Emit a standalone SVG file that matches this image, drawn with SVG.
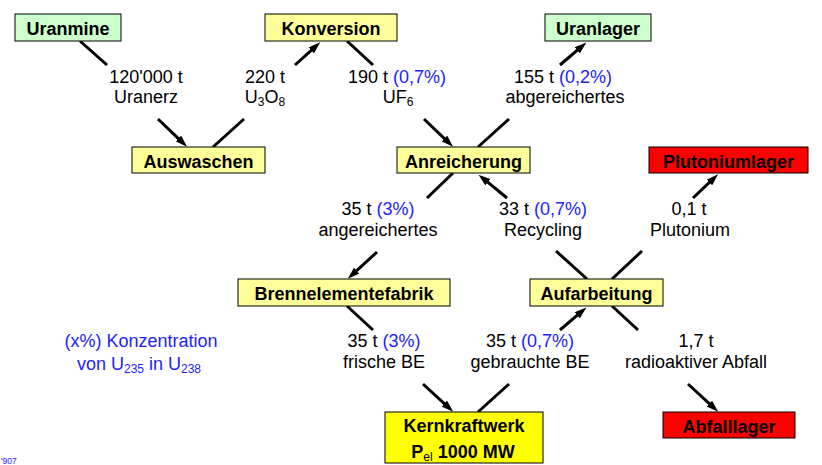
<svg xmlns="http://www.w3.org/2000/svg" width="822" height="465" viewBox="0 0 822 465">
<defs>
<marker id="ah" viewBox="0 0 12 8" refX="4" refY="4" markerWidth="12" markerHeight="8" markerUnits="userSpaceOnUse" orient="auto">
<path d="M0,0 L12,4 L0,8 z" fill="#000"/>
</marker>
<style>
text{font-family:"Liberation Sans",Arial,sans-serif;font-size:18px;text-anchor:middle;fill:#000}
.b{font-weight:bold}
.bl{fill:#2222ff}
.sub{font-size:12px}
rect{stroke:#000;stroke-width:1}
.g{fill:#ccffcc}
.y{fill:#ffff99}
.yy{fill:#ffff00}
.r{fill:#ff0000}
#connectors line{stroke:#000;stroke-width:3}
.a{marker-end:url(#ah)}
</style>
</defs>
<rect x="0" y="0" width="822" height="465" fill="#fff" style="stroke:none"/>

<g id="connectors">
<line x1="80" y1="41" x2="107" y2="65"/>
<line x1="213" y1="147" x2="244" y2="119"/>
<line x1="347" y1="41" x2="373" y2="65"/>
<line x1="478" y1="147" x2="509" y2="119"/>
<line x1="453" y1="173" x2="427" y2="198"/>
<line x1="556" y1="251" x2="587" y2="279"/>
<line x1="612" y1="279" x2="642" y2="251"/>
<line x1="347" y1="306" x2="373" y2="330"/>
<line x1="478" y1="412" x2="509" y2="384"/>
<line x1="612" y1="306" x2="638" y2="330"/>
<line class="a" x1="158" y1="119" x2="181.3" y2="141.3"/>
<line class="a" x1="295" y1="65" x2="314.3" y2="47.7"/>
<line class="a" x1="424" y1="119" x2="447.3" y2="141.3"/>
<line class="a" x1="560" y1="65" x2="580.3" y2="47.7"/>
<line class="a" x1="377" y1="252" x2="353.7" y2="273.3"/>
<line class="a" x1="507" y1="198" x2="484.7" y2="179.7"/>
<line class="a" x1="693" y1="198" x2="712.3" y2="179.7"/>
<line class="a" x1="423" y1="384" x2="447.3" y2="406.3"/>
<line class="a" x1="560" y1="330" x2="580.3" y2="312.7"/>
<line class="a" x1="688" y1="384" x2="712.3" y2="406.3"/>
</g>

<g id="uranmine"><rect class="g" x="15" y="14" width="106" height="27"/><text class="b" x="68" y="35">Uranmine</text></g>
<g id="konversion"><rect class="y" x="265" y="14" width="132" height="27"/><text class="b" x="331" y="35">Konversion</text></g>
<g id="uranlager"><rect class="g" x="545" y="14" width="106" height="27"/><text class="b" x="598" y="35">Uranlager</text></g>
<g id="auswaschen"><rect class="y" x="132" y="147" width="133" height="26"/><text class="b" x="198.5" y="168">Auswaschen</text></g>
<g id="anreicherung"><rect class="y" x="397" y="147" width="133" height="26"/><text class="b" x="463.5" y="168">Anreicherung</text></g>
<g id="plutoniumlager"><rect class="r" x="649" y="147" width="159" height="26"/><text class="b" x="728.5" y="168">Plutoniumlager</text></g>
<g id="brennelementefabrik"><rect class="y" x="238" y="279" width="212" height="27"/><text class="b" x="344" y="300">Brennelementefabrik</text></g>
<g id="aufarbeitung"><rect class="y" x="530" y="279" width="133" height="27"/><text class="b" x="596.5" y="300">Aufarbeitung</text></g>
<g id="kernkraftwerk"><rect class="yy" x="385" y="412" width="158" height="51"/><text class="b" x="464" y="432">Kernkraftwerk</text><text class="b" x="463" y="458">P<tspan class="sub" dy="3" style="font-weight:normal">el</tspan><tspan dy="-3"> 1000 MW</tspan></text></g>
<g id="abfalllager"><rect class="r" x="663" y="412" width="132" height="26"/><text class="b" x="729" y="433">Abfalllager</text></g>

<g id="labels">
<text x="146" y="83">120'000 t</text>
<text x="146" y="103">Uranerz</text>
<text x="265" y="83">220 t</text>
<text x="265" y="103">U<tspan class="sub" dy="3">3</tspan><tspan dy="-3">O</tspan><tspan class="sub" dy="3">8</tspan></text>
<text x="397" y="83">190 t <tspan class="bl">(0,7%)</tspan></text>
<text x="398" y="103">UF<tspan class="sub" dy="3">6</tspan></text>
<text x="563" y="83">155 t <tspan class="bl">(0,2%)</tspan></text>
<text x="565" y="103">abgereichertes</text>
<text x="378" y="215">35 t <tspan class="bl">(3%)</tspan></text>
<text x="378" y="236">angereichertes</text>
<text x="543" y="215">33 t <tspan class="bl">(0,7%)</tspan></text>
<text x="543" y="236">Recycling</text>
<text x="689" y="215">0,1 t</text>
<text x="690" y="236">Plutonium</text>
<text x="384" y="347">35 t <tspan class="bl">(3%)</tspan></text>
<text x="384" y="368">frische BE</text>
<text x="530" y="347">35 t <tspan class="bl">(0,7%)</tspan></text>
<text x="530" y="368">gebrauchte BE</text>
<text x="696" y="347">1,7 t</text>
<text x="696" y="368">radioaktiver Abfall</text>
<text class="bl" x="141" y="347">(x%) Konzentration</text>
<text class="bl" x="139" y="370">von U<tspan class="sub" dy="3">235</tspan><tspan dy="-3"> in U</tspan><tspan class="sub" dy="3">238</tspan></text>
<text class="bl" x="1" y="464" style="font-size:8.5px;text-anchor:start">'907</text>
</g>
</svg>
